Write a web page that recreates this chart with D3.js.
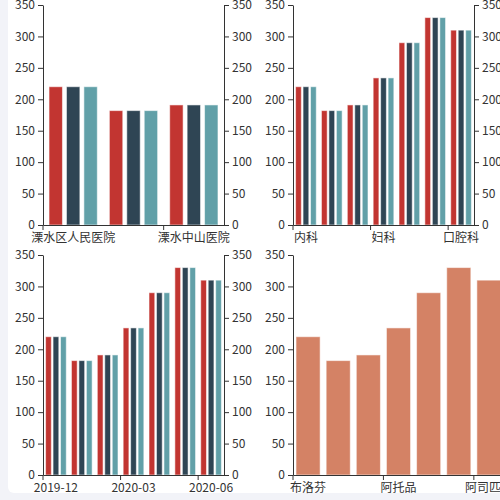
<!DOCTYPE html>
<html lang="zh">
<head>
<meta charset="UTF-8">
<title>Bar Charts</title>
<script src="https://d3js.org/d3.v7.min.js"></script>
<style>
    body { margin: 0; background: #f2f3f8; }
    svg { display: block; }
    .axis text { font-family: "Noto Sans CJK SC", "Noto Sans", sans-serif; font-size: 12px; fill: #333; }
    .axis path, .axis line { stroke: #333; }
    rect.bar { stroke: rgba(255,255,255,0.55); stroke-width: 1px; }
</style>
</head>
<body>
<svg width="500" height="500"></svg>
<script>
    // data
    const hospitals = ["溧水区人民医院", "溧水区中医院", "溧水中山医院"];
    const departments = ["内科", "外科", "儿科", "妇科", "眼科", "耳鼻喉科", "口腔科"];
    const months = ["2019-12", "2020-01", "2020-02", "2020-03", "2020-04", "2020-05", "2020-06"];
    const drugs = ["布洛芬", "阿莫西林", "头孢克肟", "阿托品", "氯雷他定", "奥美拉唑", "阿司匹林"];
    const seriesA = [220, 182, 191, 234, 290, 330, 310];
    const seriesB = [220, 182, 191, 234, 290, 330, 310];
    const seriesC = [220, 182, 191, 234, 290, 330, 310];
    const drugValues = [220, 182, 191, 234, 290, 330, 310];
    const yTicks = [0, 50, 100, 150, 200, 250, 300, 350];
    const colors = ["#c23531", "#2f4554", "#61a0a8"];
    const drugColor = "#d48265";

    let svg = d3.select('svg');
    svg.append('rect').attr('x', 8).attr('y', -10).attr('width', 520).attr('height', 503)
        .attr('rx', 6).attr('fill', '#fff');

    function panel(opts) {
        let g = svg.append('g');
        let yScale = d3.scaleLinear().domain([0, 350]).range([opts.bottom, opts.top]);
        let xScale = d3.scaleBand().domain(opts.cats).range([opts.left, opts.right]);
        let bw = xScale.bandwidth();
        let seriesIdx = d3.range(opts.series.length);
        let inner = d3.scaleBand().domain(seriesIdx)
            .range([bw * 0.1, bw * 0.9])
            .paddingInner(opts.series.length > 1 ? 0.3 / 1.3 : 0);

        opts.series.forEach(function (vals, s) {
            g.append('g').selectAll('rect')
                .data(opts.cats.map(function (c, i) { return {c: c, v: vals[i]}; }))
                .join('rect')
                .attr('class', 'bar')
                .attr('x', function (d) { return xScale(d.c) + inner(s); })
                .attr('width', inner.bandwidth())
                .attr('y', function (d) { return yScale(d.v); })
                .attr('height', function (d) { return opts.bottom - yScale(d.v); })
                .attr('fill', opts.colors[s]);
        });

        g.append('g').attr('class', 'axis')
            .attr('transform', 'translate(' + opts.left + ',0)')
            .call(d3.axisLeft(yScale).tickValues(yTicks).tickSizeInner(5).tickSizeOuter(0).tickPadding(3));
        if (opts.rightAxis) {
            g.append('g').attr('class', 'axis')
                .attr('transform', 'translate(' + opts.right + ',0)')
                .call(d3.axisRight(yScale).tickValues(yTicks).tickSizeInner(5).tickSizeOuter(0).tickPadding(3));
        }

        let shown = opts.cats.filter(function (c, i) { return i % opts.every === 0; });
        let xAxis = g.append('g').attr('class', 'axis')
            .attr('transform', 'translate(0,' + opts.bottom + ')')
            .call(d3.axisBottom(xScale).tickValues(shown).tickSizeInner(0).tickSizeOuter(0).tickPadding(8));
        xAxis.selectAll('.tick').append('line')
            .attr('x1', -bw / 2).attr('x2', -bw / 2).attr('y1', 0).attr('y2', 5);
        g.selectAll('.axis text').attr('font-family', null).attr('font-size', null);
        g.selectAll('.axis').attr('font-family', null).attr('font-size', null);
    }

    panel({cats: hospitals, series: [seriesA.slice(0, 3), seriesB.slice(0, 3), seriesC.slice(0, 3)],
        colors: colors, left: 43, right: 224, top: 5, bottom: 225, every: 2, rightAxis: true});
    panel({cats: departments, series: [seriesA, seriesB, seriesC],
        colors: colors, left: 293, right: 474, top: 5, bottom: 225, every: 3, rightAxis: true});
    panel({cats: months, series: [seriesA, seriesB, seriesC],
        colors: colors, left: 43, right: 224, top: 255, bottom: 475, every: 3, rightAxis: true});
    panel({cats: drugs, series: [drugValues],
        colors: [drugColor], left: 293, right: 504, top: 255, bottom: 475, every: 3, rightAxis: false});
</script>
</body>
</html>
